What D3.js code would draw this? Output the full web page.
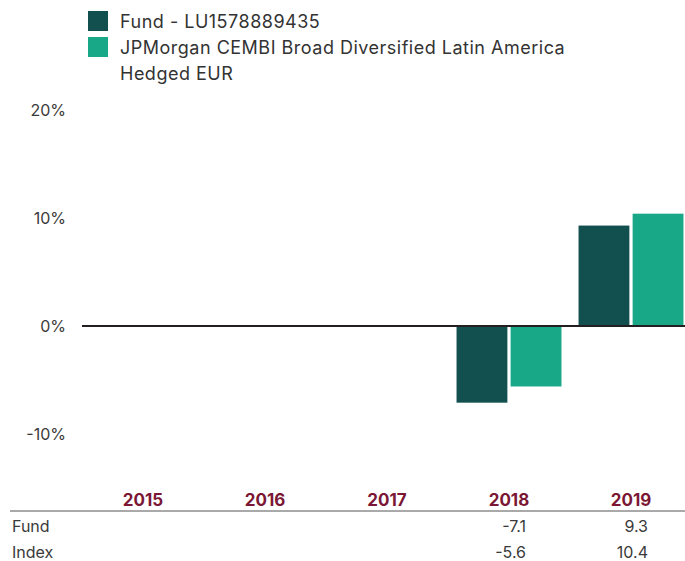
<!DOCTYPE html>
<html>
<head>
<meta charset="utf-8">
<script src="https://cdn.jsdelivr.net/npm/d3@7"></script>
<style>
  body { margin: 0; background: #fff; }
  svg { display: block; font-family: Inter, "Noto Sans", sans-serif; }
</style>
</head>
<body>
<div id="chart"></div>
<script>
const years = ["2015", "2016", "2017", "2018", "2019"]
const fundValues = [null, null, null, -7.1, 9.3]
const indexValues = [null, null, null, -5.6, 10.4]
const seriesNames = ["Fund - LU1578889435", "JPMorgan CEMBI Broad Diversified Latin America Hedged EUR"]
const rowLabels = ["Fund", "Index"]
const yTicks = [-10, 0, 10, 20]

const colors = ["#124f4f", "#19a887"]

drawChart("#chart")

function drawChart(id){
    const canvas = {width: 685, height: 561}
    const svg = d3.select(id).append("svg").attr("width", canvas.width).attr("height", canvas.height)

    const x0 = d3.scaleBand().domain(years).range([82, 692]).paddingInner(0.14).paddingOuter(0.07)
    const x1 = d3.scaleBand().domain([0, 1]).range([0, x0.bandwidth()]).paddingInner(0.06)
    const y = d3.scaleLinear().domain([-15, 20]).range([488, 110])

    // y axis labels
    const yAxis = svg.append("g").attr("transform", "translate(66,0)")
        .call(d3.axisLeft(y).tickValues(yTicks).tickSize(0).tickPadding(0).tickFormat(d => d + "%"))
    yAxis.select(".domain").remove()
    yAxis.selectAll("text").attr("font-size", "16px").attr("fill", "#3a3a3a")
        .attr("font-family", "Inter, sans-serif")

    // bars
    const series = [fundValues, indexValues]
    series.forEach((vals, si) => {
        svg.append("g").selectAll("rect")
            .data(years.map((yr, i) => ({yr, v: vals[i]})).filter(d => d.v !== null))
            .enter().append("rect")
            .attr("x", d => x0(d.yr) + x1(si))
            .attr("width", x1.bandwidth())
            .attr("y", d => y(Math.max(0, d.v)))
            .attr("height", d => Math.abs(y(d.v) - y(0)))
            .attr("fill", colors[si])
    })

    // zero line
    svg.append("line").attr("x1", 82).attr("x2", canvas.width)
        .attr("y1", y(0)).attr("y2", y(0))
        .attr("stroke", "#231f20").attr("stroke-width", 2)

    // table
    svg.append("g").selectAll("text").data(years).enter().append("text")
        .attr("x", d => x0(d) + x0.bandwidth() / 2).attr("y", 506)
        .attr("text-anchor", "middle").attr("font-size", "17px").attr("font-weight", "bold")
        .attr("fill", "#7b1734").text(d => d)

    svg.append("line").attr("x1", 10).attr("x2", canvas.width).attr("y1", 511).attr("y2", 511)
        .attr("stroke", "#555").attr("stroke-width", 1.2)

    const rowY = [532, 558]
    rowLabels.forEach((lab, ri) => {
        svg.append("text").attr("x", 12).attr("y", rowY[ri]).attr("font-size", "16px")
            .attr("fill", "#3a3a3a").text(lab)
        svg.append("g").selectAll("text")
            .data(years.map((yr, i) => ({yr, v: series[ri][i]})).filter(d => d.v !== null))
            .enter().append("text")
            .attr("x", d => x0(d.yr) + x0.bandwidth() / 2 + 17).attr("y", rowY[ri])
            .attr("text-anchor", "end").attr("font-size", "16px").attr("fill", "#3a3a3a")
            .text(d => d.v.toFixed(1))
    })

    // legend
    const lg = svg.append("g").attr("font-size", "18px").attr("fill", "#333").attr("letter-spacing", "0.5px")
    lg.append("rect").attr("x", 88).attr("y", 11).attr("width", 20).attr("height", 20).attr("fill", colors[0])
    lg.append("text").attr("x", 120).attr("y", 28).text(seriesNames[0])
    lg.append("rect").attr("x", 88).attr("y", 37).attr("width", 20).attr("height", 20).attr("fill", colors[1])
    lg.append("text").attr("x", 120).attr("y", 54).text("JPMorgan CEMBI Broad Diversified Latin America")
    lg.append("text").attr("x", 120).attr("y", 80).text("Hedged EUR")
}
</script>
</body>
</html>
